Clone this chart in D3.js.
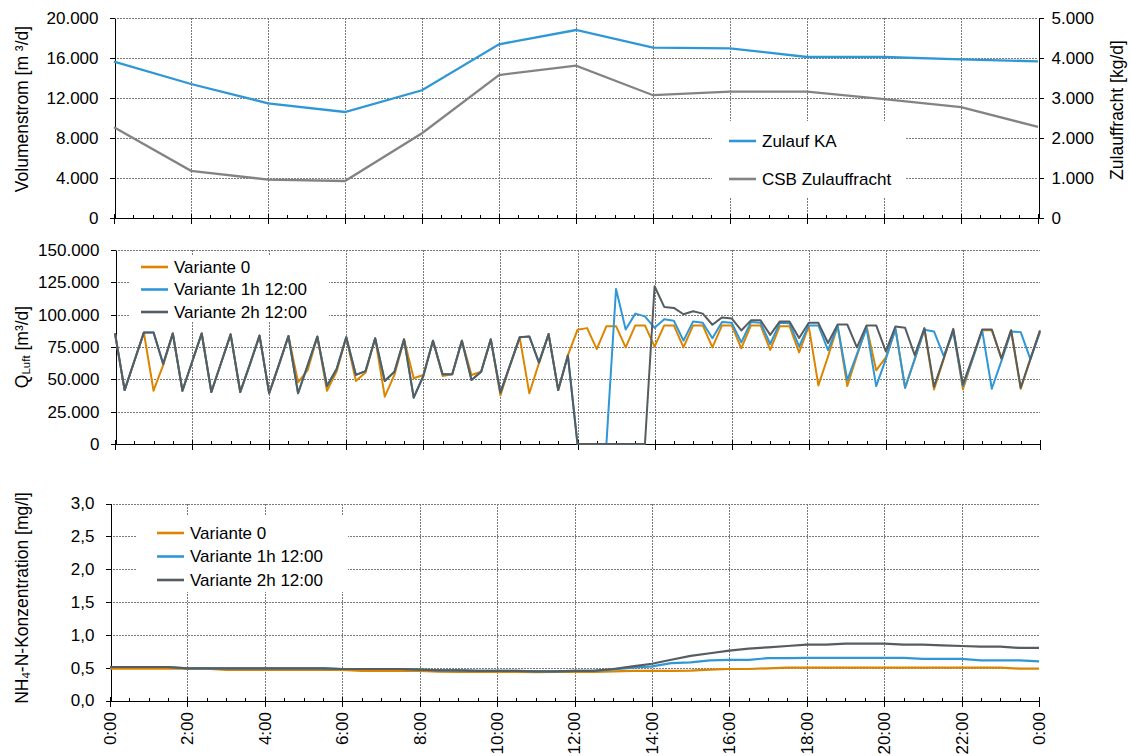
<!DOCTYPE html>
<html>
<head>
<meta charset="utf-8">
<script src="https://cdn.jsdelivr.net/npm/d3@7"></script>
<style>
  body { margin: 0; background: #fff; }
  svg { font-family: "Liberation Sans", Arial, sans-serif; }
</style>
</head>
<body>
<svg id="chart" width="1130" height="756"></svg>
<script>
// ─── Data ────────────────────────────────────────────────────────────────
// top panel: inflow (left axis, m³/d) and COD load (right axis, kg/d), every 2 h
const topHours = [0, 2, 4, 6, 8, 10, 12, 14, 16, 18, 20, 22, 24];
const zulaufKA = [15630, 13400, 11470, 10600, 12770, 17370, 18800, 17030, 16970, 16100, 16100, 15870, 15670];
const csbFracht = [2270, 1180, 960, 925, 2120, 3575, 3810, 3070, 3160, 3160, 2970, 2770, 2280];

// middle panel: air flow Q_Luft [m³/d], one value every 15 min (0:00 … 24:00)
const qStepH = 0.25;
const qLuftV0 = [
  85500, 41700, 64000, 86000, 41200, 61000, 85500, 41200, 63400, 85500, 40200, 62400,
  84800, 40200, 61600, 83800, 39200, 61000, 83500, 47700, 57200, 83000, 41200, 56000,
  82500, 48700, 55200, 81700, 36600, 53400, 80900, 50800, 53400, 79900, 52600, 53900,
  79900, 53400, 55900, 80900, 37600, 61000, 82500, 39200, 62400, 85000, 41700, 68500,
  88300, 89600, 73400, 91100, 91100, 74700, 91700, 91700, 75300, 91700, 91700, 74700,
  91700, 91700, 74700, 91700, 91700, 74000, 91700, 91700, 72700, 91100, 91100, 70800,
  91100, 45300, 67700, 91100, 44800, 68200, 91100, 57000, 66900, 89000, 43500, 65600,
  89000, 42200, 65600, 88300, 42200, 65600, 88000, 88000, 66000, 87800, 42700, 65600,
  87800
];
const qLuftV1 = [
  85500, 41700, 64000, 86300, 86300, 61800, 85500, 41200, 63400, 85500, 40200, 62400,
  84800, 40200, 61600, 83800, 39200, 61000, 83500, 39200, 61000, 83000, 44800, 58000,
  82500, 53400, 56400, 81700, 48700, 55900, 80900, 35800, 52600, 79900, 53900, 53900,
  79900, 49500, 55900, 80900, 39700, 61000, 82500, 83200, 62900, 85000, 41700, 68500,
  0, 0, 0, 0, 119800, 88500, 100800, 98700, 89800, 96400, 95300, 79900,
  94800, 93700, 81800, 94300, 93700, 78600, 94300, 93700, 77300, 93700, 93400, 75500,
  91700, 91700, 72600, 91100, 49500, 69500, 89600, 44800, 65600, 89000, 43500, 65600,
  88300, 87000, 68200, 86500, 44800, 65600, 87800, 42700, 64300, 87000, 86500, 65600,
  86500
];
const qLuftV2 = [
  85500, 41700, 64000, 86300, 86300, 61800, 85500, 41200, 63400, 85500, 40200, 62400,
  84800, 40200, 61600, 83800, 39200, 61000, 83500, 39200, 61000, 83000, 44800, 58000,
  82500, 53400, 56400, 81700, 48700, 55900, 80900, 35800, 52600, 79900, 53900, 53900,
  79900, 49500, 55900, 80900, 39700, 61000, 82500, 83200, 62900, 85000, 41700, 68500,
  0, 0, 0, 0, 0, 0, 0, 0, 122000, 106000, 105200, 100300,
  102600, 100800, 92200, 97900, 97100, 87800, 95600, 95600, 84400, 94800, 94800, 82000,
  93700, 93700, 78100, 92400, 92400, 74700, 91700, 91700, 71600, 90900, 89800, 68700,
  89600, 44300, 66100, 89000, 46100, 66900, 88500, 88500, 66100, 88000, 43500, 65600,
  87800
];

// bottom panel: NH4-N [mg/l], one value every 30 min (0:00 … 24:00)
const nhStepH = 0.5;
const nh4V0 = [
  0.485, 0.485, 0.485, 0.485, 0.485, 0.485, 0.465, 0.465, 0.465, 0.465, 0.465, 0.465,
  0.465, 0.45, 0.45, 0.45, 0.45, 0.44, 0.435, 0.435, 0.435, 0.435, 0.43, 0.435,
  0.435, 0.435, 0.445, 0.45, 0.45, 0.45, 0.455, 0.47, 0.48, 0.48, 0.49, 0.50,
  0.50, 0.50, 0.50, 0.50, 0.50, 0.50, 0.50, 0.50, 0.50, 0.50, 0.50, 0.485,
  0.485
];
const nh4V1 = [
  0.51, 0.51, 0.51, 0.51, 0.49, 0.49, 0.49, 0.49, 0.49, 0.49, 0.49, 0.49,
  0.48, 0.48, 0.48, 0.48, 0.47, 0.46, 0.46, 0.45, 0.45, 0.45, 0.445, 0.445,
  0.45, 0.45, 0.475, 0.50, 0.52, 0.57, 0.58, 0.61, 0.62, 0.62, 0.645, 0.645,
  0.65, 0.65, 0.65, 0.65, 0.65, 0.65, 0.635, 0.635, 0.635, 0.61, 0.61, 0.61,
  0.595
];
const nh4V2 = [
  0.51, 0.51, 0.51, 0.51, 0.49, 0.49, 0.49, 0.49, 0.49, 0.49, 0.49, 0.49,
  0.48, 0.48, 0.48, 0.48, 0.47, 0.46, 0.46, 0.45, 0.45, 0.45, 0.445, 0.445,
  0.45, 0.45, 0.48, 0.52, 0.56, 0.62, 0.68, 0.72, 0.76, 0.79, 0.81, 0.83,
  0.85, 0.85, 0.865, 0.865, 0.865, 0.85, 0.85, 0.84, 0.83, 0.82, 0.82, 0.80,
  0.80
];

const timeLabels = ['0:00', '2:00', '4:00', '6:00', '8:00', '10:00', '12:00',
                    '14:00', '16:00', '18:00', '20:00', '22:00', '0:00'];
const variantNames = ['Variante 0', 'Variante 1h 12:00', 'Variante 2h 12:00'];

// ─── Styles ──────────────────────────────────────────────────────────────
const C_BLUE = '#2f97d5';
const C_ORANGE = '#dc8500';
const C_DGRAY = '#565c5f';
const C_GRAY = '#838383';
const C_GRID = '#7a7a7a';
const FONT = '17px';

const de = d3.formatLocale({ decimal: ',', thousands: '.', grouping: [3], currency: ['', ' €'] });
const fmtInt = de.format(',.0f');
const fmtDec = de.format('.1f');

const svg = d3.select('#chart');
const crisp = v => Math.round(v) + 0.5;

// ─── Panel frame: grid, axes ─────────────────────────────────────────────
function panel(p) {
  const x = d3.scaleLinear().domain([0, 24]).range([p.x0, p.x1]);
  const y = d3.scaleLinear().domain([0, p.yMax]).range([p.yBot, p.yTop]);
  const g = svg.append('g');
  const yTicks = d3.range(0, p.yMax + p.yStep / 2, p.yStep);

  // grid lines
  g.selectAll('.hgrid').data(yTicks.slice(1)).enter().append('line')
    .attr('x1', p.x0).attr('x2', p.x1)
    .attr('y1', d => crisp(y(d))).attr('y2', d => crisp(y(d)))
    .attr('stroke', C_GRID).attr('stroke-dasharray', '2,1');
  g.selectAll('.vgrid').data(d3.range(2, 24, 2)).enter().append('line')
    .attr('x1', d => crisp(x(d))).attr('x2', d => crisp(x(d)))
    .attr('y1', p.yTop).attr('y2', p.yBot)
    .attr('stroke', C_GRID).attr('stroke-dasharray', '2,1');

  // left axis
  const ax = g.append('g').attr('transform', `translate(${crisp(p.x0)},0)`)
    .call(d3.axisLeft(y).tickValues(yTicks).tickFormat(p.fmt).tickSize(5).tickSizeOuter(0).tickPadding(11));
  ax.attr('font-size', FONT).attr('font-family', null);
  ax.selectAll('path,line').attr('stroke', '#000').attr('shape-rendering', 'crispEdges');
  ax.selectAll('text').attr('fill', '#000');

  // x axis: minor ticks every 30 min pointing up, major every 2 h crossing
  const xb = crisp(p.yBot);
  g.selectAll('.minor').data(d3.range(0, 24.01, 0.5).filter(d => d % 2 !== 0)).enter().append('line')
    .attr('x1', d => crisp(x(d))).attr('x2', d => crisp(x(d)))
    .attr('y1', xb - 4).attr('y2', xb).attr('stroke', '#000');
  g.selectAll('.major').data(d3.range(0, 24.01, 2)).enter().append('line')
    .attr('x1', d => crisp(x(d))).attr('x2', d => crisp(x(d)))
    .attr('y1', xb - 5).attr('y2', xb + 5).attr('stroke', '#000');
  g.append('line').attr('x1', p.x0).attr('x2', p.x1 + 1).attr('y1', xb).attr('y2', xb)
    .attr('stroke', '#000').attr('stroke-width', 1.3);
  g.selectAll('line').attr('shape-rendering', 'crispEdges');

  return { g, x, y };
}

function series(P, values, stepH, color, width) {
  const line = d3.line().x((d, i) => P.x(i * stepH)).y(d => P.y(d));
  P.g.append('path').datum(values).attr('d', line)
    .attr('fill', 'none').attr('stroke', color).attr('stroke-width', width)
    .attr('stroke-linejoin', 'round');
}

function legend(P, box, items) {
  P.g.append('rect').attr('x', box.x).attr('y', box.y).attr('width', box.w).attr('height', box.h)
    .attr('fill', '#fff');
  items.forEach((it, i) => {
    const yy = box.first + i * box.dy;
    P.g.append('line').attr('x1', box.lx).attr('x2', box.lx + 27).attr('y1', yy).attr('y2', yy)
      .attr('stroke', it.color).attr('stroke-width', 2.6);
    P.g.append('text').attr('x', box.lx + 33).attr('y', yy).attr('dy', '0.35em')
      .attr('font-size', FONT).text(it.name);
  });
}

function yTitle(cx, cy, build) {
  const t = svg.append('text').attr('transform', `translate(${cx},${cy}) rotate(-90)`)
    .attr('text-anchor', 'middle').attr('dy', '0.35em').attr('font-size', '17.5px');
  build(t);
}

// ─── Top panel ───────────────────────────────────────────────────────────
const P1 = panel({ x0: 114, x1: 1038, yTop: 18, yBot: 218, yMax: 20000, yStep: 4000, fmt: fmtInt });
const yRight = d3.scaleLinear().domain([0, 5000]).range([218, 18]);
const axR = P1.g.append('g').attr('transform', `translate(${crisp(1038)},0)`)
  .call(d3.axisRight(yRight).ticks(5).tickFormat(fmtInt).tickSize(5).tickSizeOuter(0).tickPadding(8));
axR.attr('font-size', FONT).attr('font-family', null);
axR.selectAll('path,line').attr('stroke', '#000').attr('shape-rendering', 'crispEdges');

{
  const lineL = d3.line().x((d, i) => P1.x(topHours[i])).y(d => P1.y(d));
  const lineR = d3.line().x((d, i) => P1.x(topHours[i])).y(d => yRight(d));
  P1.g.append('path').datum(csbFracht).attr('d', lineR)
    .attr('fill', 'none').attr('stroke', C_GRAY).attr('stroke-width', 2.3);
  P1.g.append('path').datum(zulaufKA).attr('d', lineL)
    .attr('fill', 'none').attr('stroke', C_BLUE).attr('stroke-width', 2.3);
}
legend(P1, { x: 712, y: 121, w: 194, h: 76, lx: 729, first: 141, dy: 38 },
  [{ name: 'Zulauf KA', color: C_BLUE }, { name: 'CSB Zulauffracht', color: C_GRAY }]);

yTitle(22, 109, t => t.text('Volumenstrom [m ³/d]'));
yTitle(1117, 110, t => t.text('Zulauffracht [kg/d]'));

// ─── Middle panel ────────────────────────────────────────────────────────
const P2 = panel({ x0: 115, x1: 1040, yTop: 250, yBot: 444, yMax: 150000, yStep: 25000, fmt: fmtInt });
series(P2, qLuftV0, qStepH, C_ORANGE, 2);
series(P2, qLuftV1, qStepH, C_BLUE, 2);
series(P2, qLuftV2, qStepH, C_DGRAY, 2);
legend(P2, { x: 129, y: 255, w: 200, h: 67, lx: 141, first: 267, dy: 22.5 },
  [{ name: variantNames[0], color: C_ORANGE }, { name: variantNames[1], color: C_BLUE },
   { name: variantNames[2], color: C_DGRAY }]);

yTitle(22, 347, t => {
  t.append('tspan').text('Q');
  t.append('tspan').attr('font-size', '11.5px').attr('dy', 2).text('Luft');
  t.append('tspan').attr('dy', -2).text(' [m³/d]');
});

// ─── Bottom panel ────────────────────────────────────────────────────────
const P3 = panel({ x0: 110, x1: 1039, yTop: 503.5, yBot: 700.5, yMax: 3, yStep: 0.5, fmt: fmtDec });
series(P3, nh4V0, nhStepH, C_ORANGE, 2.2);
series(P3, nh4V1, nhStepH, C_BLUE, 2.2);
series(P3, nh4V2, nhStepH, C_DGRAY, 2.2);
legend(P3, { x: 136, y: 515, w: 212, h: 77, lx: 157, first: 533, dy: 23.5 },
  [{ name: variantNames[0], color: C_ORANGE }, { name: variantNames[1], color: C_BLUE },
   { name: variantNames[2], color: C_DGRAY }]);

yTitle(22, 598, t => {
  t.append('tspan').text('NH');
  t.append('tspan').attr('font-size', '11.5px').attr('dy', 2).text('4');
  t.append('tspan').attr('dy', -2).text('-N-Konzentration [mg/l]');
});

// rotated time labels under bottom panel
P3.g.selectAll('.xlab').data(timeLabels).enter().append('text')
  .attr('transform', (d, i) => `translate(${P3.x(i * 2)},712) rotate(-90)`)
  .attr('text-anchor', 'end').attr('dy', '0.35em').attr('font-size', FONT)
  .text(d => d);
</script>
</body>
</html>
